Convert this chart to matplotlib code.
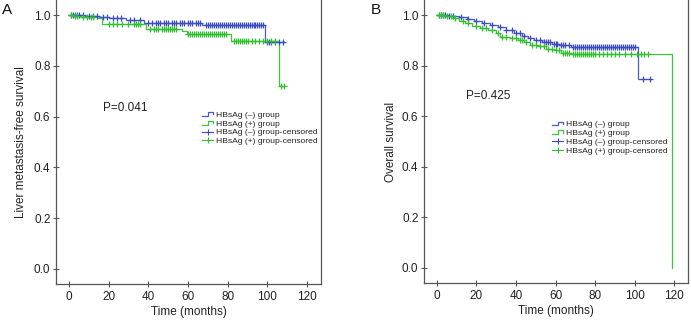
import numpy as np
import matplotlib
matplotlib.use("Agg")
import matplotlib.pyplot as plt
from matplotlib.lines import Line2D
from matplotlib.legend_handler import HandlerBase

plt.rcParams['font.family'] = ['Liberation Sans', 'DejaVu Sans']

# ---------------- data ----------------
# Panel A: liver metastasis-free survival
a_neg_t = [0, 8, 15, 20, 29, 38, 67, 99]
a_neg_s = [1.0, 0.997, 0.993, 0.988, 0.980, 0.970, 0.962, 0.896]
a_neg_end = 108.5
a_neg_cens = [1, 2, 3, 4, 5, 7, 10, 12, 14, 17, 19, 22, 24, 26, 31, 33, 36, 40, 42, 44, 45, 46,
              48, 49, 50, 52, 53, 54, 56, 57, 58, 60, 61, 62, 64, 65, 66, 69, 70, 71, 72, 73,
              74, 75, 76, 77, 78, 79, 80, 81, 82, 83, 84, 85, 86, 87, 88, 89, 90, 91, 92, 93,
              94, 95, 96, 97, 98, 100, 101, 102, 104, 106, 108]

a_pos_t = [0, 2, 6, 14, 16.5, 39, 57, 59.5, 81.5, 106]
a_pos_s = [1.0, 0.996, 0.992, 0.988, 0.966, 0.944, 0.936, 0.925, 0.900, 0.719]
a_pos_end = 108.5
a_pos_cens = [1, 3, 4, 7, 9, 11, 12, 20, 22, 24, 27, 30, 33, 34, 35, 36, 41, 43, 44, 45, 47,
              48, 49, 50, 51, 52, 53, 54, 60, 61, 62, 63, 64, 65, 66, 67, 68, 69, 70, 71,
              72, 73, 74, 75, 76, 77, 78, 79, 83, 84, 85, 86, 87, 88, 89, 90, 92, 94,
              96, 98, 100, 102, 104, 107, 108.5]

# Panel B: overall survival
b_neg_t = [0, 6, 11, 15, 19, 23, 27, 31, 35, 39, 43, 46, 49, 53, 58, 62, 68, 101.6]
b_neg_s = [1.0, 0.997, 0.993, 0.985, 0.977, 0.970, 0.962, 0.952, 0.940, 0.930, 0.918,
           0.908, 0.900, 0.893, 0.887, 0.882, 0.873, 0.747]
b_neg_end = 108.5
b_neg_cens = [1, 2, 3, 4, 6, 8, 12, 16, 20, 24, 28, 32, 35, 38, 40, 42, 44, 47, 50, 52, 54,
              55, 56, 57, 59, 60, 61, 63, 64, 65, 67, 69, 70, 71, 72, 73, 74, 75, 76, 77,
              78, 79, 80, 81, 82, 83, 84, 85, 86, 87, 88, 89, 90, 91, 92, 93, 94, 95, 96,
              97, 98, 99, 100, 104, 108]

b_pos_t = [0, 4, 8, 11, 14, 18, 22, 26, 30, 32, 37, 41, 44, 47, 51, 55, 59, 63, 68, 119]
b_pos_s = [1.0, 0.996, 0.990, 0.977, 0.968, 0.958, 0.948, 0.940, 0.930, 0.915, 0.908,
           0.902, 0.893, 0.882, 0.876, 0.868, 0.862, 0.852, 0.846, 0.0]
b_pos_end = 119
b_pos_cens = [1, 2, 3, 5, 7, 9, 13, 16, 20, 23, 25, 28, 31, 33, 35, 38, 40, 42, 43, 45, 48,
              50, 52, 54, 56, 58, 60, 62, 64, 65, 66, 67, 69, 70, 71, 72, 73, 74, 75, 76,
              77, 78, 79, 80, 82, 84, 86, 88, 90, 92, 95, 98, 101, 103, 105, 107]

p_values = ["P=0.041", "P=0.425"]
ylabels = ["Liver metastasis-free survival", "Overall survival"]
panel_letters = ["A", "B"]
legend_labels = ["HBsAg (\u2013) group", "HBsAg (+) group",
                 "HBsAg (\u2013) group-censored", "HBsAg (+) group-censored"]
xticks = [0, 20, 40, 60, 80, 100, 120]
yticks = [0.0, 0.2, 0.4, 0.6, 0.8, 1.0]

BLUE = '#4a5cc8'
BLUE_M = '#3a4cc0'
GREEN = '#3ec63e'
GREEN_M = '#2fbf2f'


def surv_at(tt, ev_t, ev_s):
    idx = np.searchsorted(np.asarray(ev_t), np.asarray(tt), side='right') - 1
    return np.asarray(ev_s)[idx]


class HandlerStep(HandlerBase):
    def create_artists(self, legend, orig_handle, xdescent, ydescent, width, height,
                       fontsize, trans):
        x0 = -xdescent
        y0 = -ydescent
        xs = [x0, x0 + 0.5 * width, x0 + 0.5 * width, x0 + width, x0 + width]
        ys = [y0 + 0.2 * height, y0 + 0.2 * height, y0 + 0.8 * height,
              y0 + 0.8 * height, y0 + 0.45 * height]
        ln = Line2D(xs, ys, color=orig_handle.get_color(), lw=0.9, transform=trans)
        return [ln]


fig = plt.figure(figsize=(6.91, 3.2), dpi=100)
W, H = 691.0, 320.0
ax_a = fig.add_axes([56 / W, 1 - 284 / H, (321 - 56) / W, 284 / H])
ax_b = fig.add_axes([424 / W, 1 - 283 / H, (688 - 424) / W, 283 / H])

panels = [
    (ax_a, (a_neg_t, a_neg_s, a_neg_end, a_neg_cens), (a_pos_t, a_pos_s, a_pos_end, a_pos_cens)),
    (ax_b, (b_neg_t, b_neg_s, b_neg_end, b_neg_cens), (b_pos_t, b_pos_s, b_pos_end, b_pos_cens)),
]

p_pos = [(17, 0.634), (14.9, 0.682)]
leg_pos = [(202 / W, 1 - 111 / H), (552 / W, 1 - 120.5 / H)]
ylab_x = [21, 391]
letter_pos = [(7, 10), (376, 10)]

for i, (ax, neg, pos) in enumerate(panels):
    handles = []
    for (ev_t, ev_s, end, cens), col, mcol in [(neg, BLUE, BLUE_M), (pos, GREEN, GREEN_M)]:
        xs = list(ev_t) + [end]
        ys = list(ev_s) + [ev_s[-1]]
        ln, = ax.step(xs, ys, where='post', color=col, lw=0.9)
        handles.append(ln)
    for (ev_t, ev_s, end, cens), col, mcol in [(neg, BLUE, BLUE_M), (pos, GREEN, GREEN_M)]:
        cy = surv_at(cens, ev_t, ev_s)
        ax.plot(cens, cy, ls='none', marker='+', ms=4.5, mew=0.9, color=mcol)
    cens_handles = [Line2D([], [], color=BLUE_M, marker='+', ms=5, mew=0.8, lw=0.8),
                    Line2D([], [], color=GREEN_M, marker='+', ms=5, mew=0.8, lw=0.8)]

    ax.set_xlim(-6.5, 127)
    ax.set_ylim(-0.06, 1.06)
    ax.set_xticks(xticks)
    ax.set_yticks(yticks)
    ax.set_yticklabels([f"{v:.1f}" for v in yticks])
    for s in ['left', 'bottom', 'right']:
        ax.spines[s].set_color('#555555')
        ax.spines[s].set_linewidth(0.9)
    ax.spines['top'].set_visible(False)
    ax.tick_params(axis='both', direction='inout', length=4, width=0.8, color='#555555',
                   labelsize=8.5, labelcolor='#222222')
    ax.tick_params(axis='y', pad=2)
    ax.tick_params(axis='x', pad=3)
    ax.set_xlabel("Time (months)", fontsize=8.5, color='#222222', labelpad=2)

    ax.text(p_pos[i][0], p_pos[i][1], p_values[i], fontsize=8.5, color='#222222',
            ha='left', va='center')

    leg = ax.legend(handles + cens_handles, legend_labels, loc='upper left',
                    bbox_to_anchor=leg_pos[i], bbox_transform=fig.transFigure,
                    frameon=False, fontsize=6.1, borderpad=0, borderaxespad=0,
                    handlelength=1.3, handletextpad=0.4, labelspacing=0.1,
                    handler_map={handles[0]: HandlerStep(), handles[1]: HandlerStep()})
    for t in leg.get_texts():
        t.set_color('#222222')

    fig.text(ylab_x[i] / W, 1 - 142 / H, ylabels[i], rotation=90, fontsize=8.5,
             color='#222222', ha='center', va='center')
    fig.text(letter_pos[i][0] / W, 1 - letter_pos[i][1] / H, panel_letters[i],
             fontsize=11, color='#111111', ha='center', va='center')

fig.savefig("out.png", dpi=100)
